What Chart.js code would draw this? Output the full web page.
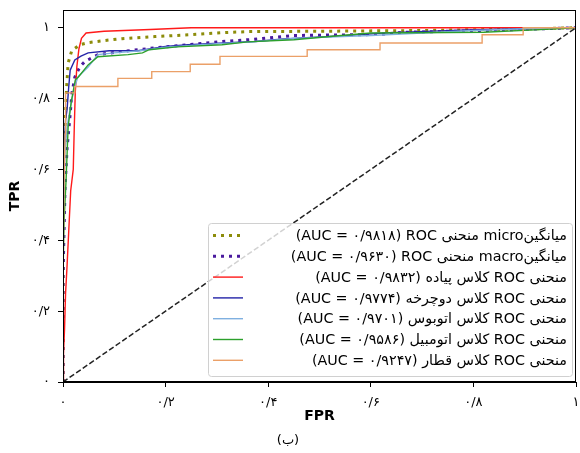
<!DOCTYPE html>
<html><head><meta charset="utf-8">
<script src="https://cdn.jsdelivr.net/npm/chart.js@4/dist/chart.umd.min.js"></script>
<style>html,body{margin:0;padding:0;background:#fff}</style>
</head><body>
<canvas id="c" width="580" height="453" style="width:580px;height:453px;display:block"></canvas>
<script>
// ---- data ----
const tickValues = [0, 0.2, 0.4, 0.6, 0.8, 1];
const tickLabels = ['۰', '۰/۲', '۰/۴', '۰/۶', '۰/۸', '۱'];

const microFpr = [0, 0, 0.002, 0.004, 0.007, 0.010, 0.017, 0.033, 0.049, 0.082, 0.115, 0.179, 0.244, 0.31, 0.36, 0.50, 0.69, 0.887, 1];
const microTpr = [0, 0.30, 0.55, 0.72, 0.83, 0.90, 0.935, 0.952, 0.958, 0.964, 0.969, 0.975, 0.980, 0.986, 0.989, 0.990, 0.992, 0.996, 1];

const macroFpr = [0, 0, 0.004, 0.008, 0.013, 0.0175, 0.023, 0.033, 0.043, 0.068, 0.115, 0.179, 0.244, 0.31, 0.36, 0.45, 0.62, 0.66, 0.82, 0.89, 1];
const macroTpr = [0, 0.30, 0.55, 0.66, 0.74, 0.816, 0.86, 0.89, 0.905, 0.924, 0.933, 0.943, 0.952, 0.961, 0.966, 0.978, 0.981, 0.987, 0.992, 0.995, 1];

const pedFpr = [0, 0.001, 0.003, 0.005, 0.008, 0.012, 0.015, 0.020, 0.022, 0.024, 0.027, 0.031, 0.036, 0.045, 0.08, 0.17, 0.25, 1];
const pedTpr = [0, 0.08, 0.15, 0.25, 0.33, 0.45, 0.54, 0.60, 0.72, 0.82, 0.89, 0.94, 0.97, 0.985, 0.99, 0.995, 1.0, 1];

const bikeFpr = [0, 0, 0.001, 0.003, 0.005, 0.008, 0.011, 0.014, 0.023, 0.035, 0.049, 0.09, 0.146, 0.2, 0.244, 0.374, 0.43, 0.52, 0.64, 0.79, 0.9, 1];
const bikeTpr = [0, 0.35, 0.55, 0.68, 0.74, 0.77, 0.83, 0.88, 0.909, 0.92, 0.929, 0.935, 0.935, 0.947, 0.952, 0.961, 0.968, 0.975, 0.986, 0.994, 0.997, 1];

const busFpr = [0, 0, 0.002, 0.004, 0.008, 0.015, 0.022, 0.029, 0.049, 0.068, 0.1, 0.15, 0.2, 0.3, 0.37, 0.45, 0.6, 0.7, 0.8, 0.9, 1];
const busTpr = [0, 0.35, 0.55, 0.65, 0.72, 0.78, 0.83, 0.861, 0.889, 0.924, 0.929, 0.935, 0.945, 0.955, 0.96, 0.97, 0.978, 0.985, 0.992, 0.997, 1];

const carFpr = [0, 0, 0.002, 0.006, 0.010, 0.016, 0.024, 0.03, 0.049, 0.068, 0.127, 0.155, 0.168, 0.222, 0.31, 0.36, 0.45, 0.52, 0.6, 0.82, 0.92, 1];
const carTpr = [0, 0.3, 0.45, 0.57, 0.72, 0.79, 0.853, 0.861, 0.895, 0.918, 0.924, 0.929, 0.938, 0.946, 0.952, 0.96, 0.966, 0.975, 0.985, 0.987, 0.994, 1];

const trainFpr = [0, 0, 0.002, 0.004, 0.005, 0.005, 0.023, 0.023, 0.107, 0.107, 0.173, 0.173, 0.248, 0.248, 0.306, 0.306, 0.476, 0.476, 0.618, 0.618, 0.817, 0.817, 0.897, 0.897, 1];
const trainTpr = [0, 0.3, 0.55, 0.70, 0.78, 0.816, 0.816, 0.834, 0.834, 0.857, 0.857, 0.876, 0.876, 0.897, 0.897, 0.919, 0.919, 0.938, 0.938, 0.957, 0.957, 0.98, 0.98, 1, 1];

const diagFpr = [0, 1];
const diagTpr = [0, 1];

const LRM = '\u200E';
const legendLabels = [
  '(AUC = ۰/۹۸۱۸) ROC منحنی micro' + 'میانگین',
  '(AUC = ۰/۹۶۳۰) ROC منحنی macro' + 'میانگین',
  '(AUC = ۰/۹۸۳۲) پیاده' + LRM + ' کلاس ROC منحنی',
  '(AUC = ۰/۹۷۷۴) دوچرخه' + LRM + ' کلاس ROC منحنی',
  '(AUC = ۰/۹۷۰۱) اتوبوس' + LRM + ' کلاس ROC منحنی',
  '(AUC = ۰/۹۵۸۶) اتومبیل' + LRM + ' کلاس ROC منحنی',
  '(AUC = ۰/۹۲۴۷) قطار' + LRM + ' کلاس ROC منحنی'
];
const xTitle = 'FPR';
const yTitle = 'TPR';
const caption = '(ب)';

// ---- build ----
const pts = (xs, ys) => xs.map((x, i) => ({x: x, y: ys[i]}));
const series = [
  {fpr: microFpr, tpr: microTpr, color: '#8c8c0a', width: 3, dash: [3, 5]},
  {fpr: macroFpr, tpr: macroTpr, color: '#4a1a9e', width: 3, dash: [3, 5]},
  {fpr: pedFpr, tpr: pedTpr, color: '#ff1a1a', width: 1.4, dash: []},
  {fpr: bikeFpr, tpr: bikeTpr, color: '#2424a8', width: 1.4, dash: []},
  {fpr: busFpr, tpr: busTpr, color: '#7fb0e0', width: 1.4, dash: []},
  {fpr: carFpr, tpr: carTpr, color: '#2ca02c', width: 1.4, dash: []},
  {fpr: trainFpr, tpr: trainTpr, color: '#eba068', width: 1.4, dash: []}
];
const datasets = series.map((s, i) => ({
  label: legendLabels[i],
  data: pts(s.fpr, s.tpr),
  borderColor: s.color,
  backgroundColor: s.color,
  borderWidth: s.width,
  borderDash: s.dash,
  borderCapStyle: 'butt',
  showLine: true, pointRadius: 0, tension: 0, fill: false,
  order: -i
}));
datasets.push({
  label: 'diag', data: pts(diagFpr, diagTpr), borderColor: '#222', borderWidth: 1.5,
  borderDash: [5.5, 2.5], showLine: true, pointRadius: 0, tension: 0, fill: false, order: -10
});

const legendPlugin = {
  id: 'rocLegend',
  afterDraw(chart) {
    const ctx = chart.ctx;
    const bx = 208, by = 223, bw = 364, bh = 153;
    ctx.save();
    ctx.beginPath();
    if (ctx.roundRect) ctx.roundRect(bx + 0.5, by + 0.5, bw, bh, 3); else ctx.rect(bx + 0.5, by + 0.5, bw, bh);
    ctx.fillStyle = 'rgba(255,255,255,0.8)';
    ctx.fill();
    ctx.strokeStyle = '#d0d0d0';
    ctx.lineWidth = 1;
    ctx.stroke();
    ctx.font = '14.3px "DejaVu Sans"';
    ctx.textAlign = 'right';
    ctx.textBaseline = 'middle';
    ctx.direction = 'ltr';
    series.forEach((s, i) => {
      const y = 235.5 + i * 20.8;
      ctx.beginPath();
      ctx.strokeStyle = s.color;
      ctx.lineWidth = s.width;
      ctx.setLineDash(s.dash);
      ctx.lineCap = 'butt';
      ctx.moveTo(213, y);
      ctx.lineTo(243, y);
      ctx.stroke();
      ctx.setLineDash([]);
      ctx.fillStyle = '#000';
      ctx.fillText(legendLabels[i], 567, y + 1);
    });
    ctx.restore();
  }
};
const framePlugin = {
  id: 'frame',
  afterDatasetsDraw(chart) {
    const a = chart.chartArea, ctx = chart.ctx;
    ctx.save();
    ctx.strokeStyle = '#000';
    ctx.lineWidth = 1;
    ctx.strokeRect(Math.round(a.left) + 0.5, Math.round(a.top) + 0.5, Math.round(a.right - a.left) - 1, Math.round(a.bottom - a.top) - 1);
    ctx.restore();
  }
};

const tickFont = {family: '"DejaVu Sans"', size: 13};
new Chart(document.getElementById('c'), {
  type: 'scatter',
  data: {datasets: datasets},
  options: {
    responsive: false, animation: false, devicePixelRatio: 1,
    layout: {padding: {top: 10, right: 4, left: 0, bottom: 0}},
    plugins: {
      legend: {display: false}, tooltip: {enabled: false},
      title: {display: true, text: caption, position: 'bottom', color: '#000',
        font: {family: '"DejaVu Sans"', size: 13, weight: 'normal'}, padding: {top: 0, bottom: 5}}
    },
    scales: {
      x: {
        type: 'linear', min: 0, max: 1,
        afterBuildTicks: s => { s.ticks = tickValues.map(v => ({value: v})); },
        afterFit: s => { s.height = 50.4; s.paddingLeft = 0; s.paddingRight = 0; },
        ticks: {callback: (v) => tickLabels[tickValues.indexOf(v)] ?? '', color: '#000', font: tickFont, padding: 8, maxRotation: 0, autoSkip: false},
        grid: {drawOnChartArea: false, tickLength: 5, color: '#000'},
        border: {color: '#000', width: 1},
        title: {display: true, text: xTitle, color: '#000', font: {family: '"DejaVu Sans"', size: 14, weight: 'bold'}, padding: {top: 0, bottom: 8}}
      },
      y: {
        type: 'linear', min: 0, max: 1.05,
        afterBuildTicks: s => { s.ticks = tickValues.map(v => ({value: v})); },
        afterFit: s => { s.width = 63; s.paddingTop = 0; s.paddingBottom = 0; },
        ticks: {callback: (v) => tickLabels[tickValues.indexOf(v)] ?? '', color: '#000', font: tickFont, padding: 8, autoSkip: false},
        grid: {drawOnChartArea: false, tickLength: 5, color: '#000'},
        border: {color: '#000', width: 1},
        title: {display: true, text: yTitle, color: '#000', font: {family: '"DejaVu Sans"', size: 14, weight: 'bold'}, padding: {top: 6.6, bottom: 0}}
      }
    }
  },
  plugins: [framePlugin, legendPlugin]
});
</script>
</body></html>
